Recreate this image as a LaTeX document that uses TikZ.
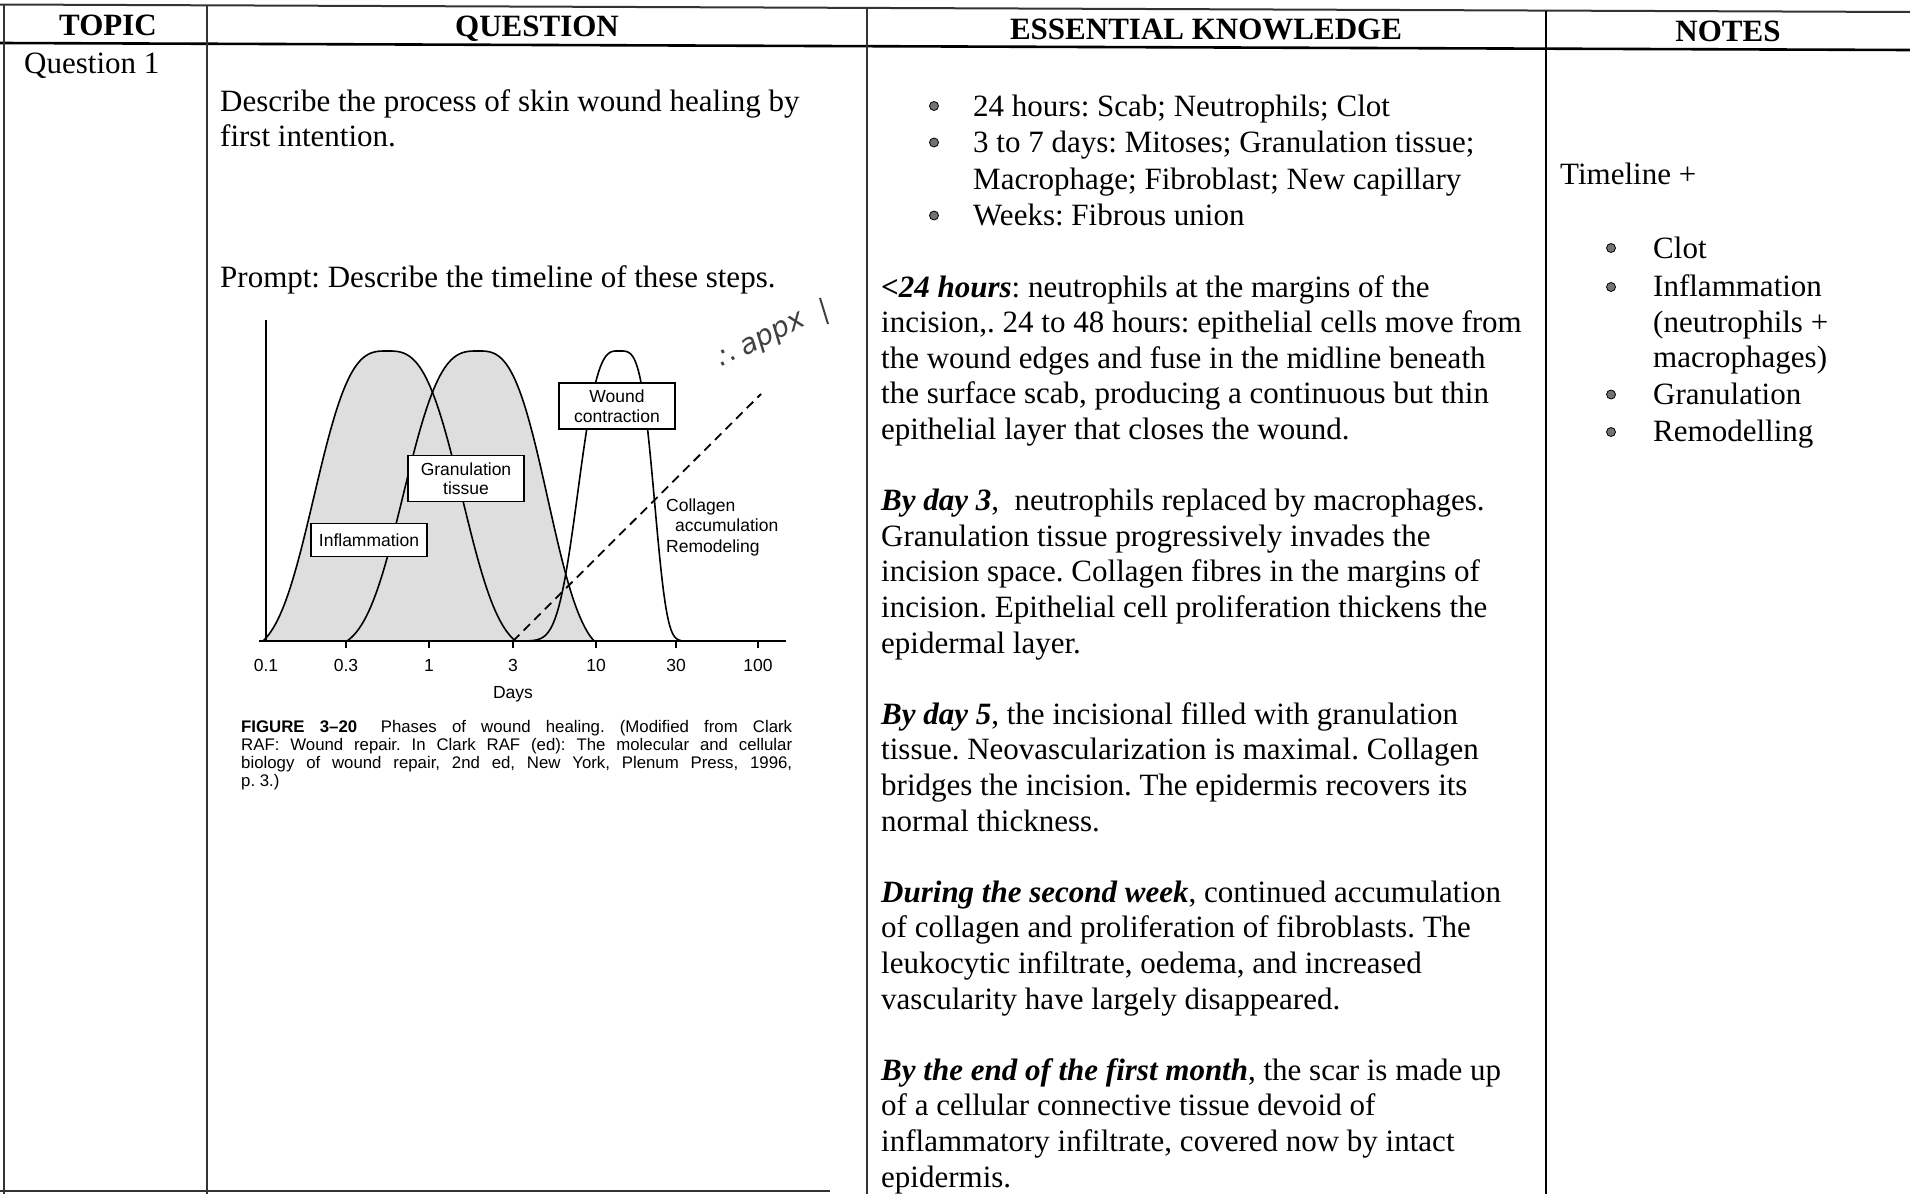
\documentclass[tikz,border=0pt]{standalone}
\usepackage{fontspec}
\setmainfont{Liberation Serif}
\newfontfamily\chartfont{Liberation Sans}
\newfontfamily\handfont{DejaVu Sans}
\frenchspacing
\tikzset{
  txt/.style={inner sep=0pt, anchor=base west, font=\fontsize{31}{35.6}\selectfont},
  hdr/.style={inner sep=0pt, anchor=base, font=\fontsize{31}{35.6}\selectfont\bfseries},
  bul/.style={circle, draw=black, fill=black!55, line width=0.8pt, minimum size=9pt, inner sep=0pt},
  tablerule/.style={line width=2pt, black!80},
  chartfnt/.style={font=\chartfont\fontsize{17.5}{19.5}\selectfont},
  lbl/.style={chartfnt, draw, line width=1.3pt, fill=white, align=center, inner sep=0pt, minimum width=116pt},
  ticklbl/.style={chartfnt, inner sep=0pt, anchor=base},
  curveline/.style={line width=1.6pt},
  stipple/.style={fill=black!13},
  captxt/.style={inner sep=0pt, anchor=base west, font=\chartfont\fontsize{16.8}{18}\selectfont}
}
\begin{document}
\frenchspacing
\begin{tikzpicture}[x=1pt,y=-1pt]
\useasboundingbox (0,0) rectangle (1910,1194);
\fill[white] (0,0) rectangle (1910,1194);

% ---------- table rules ----------
\draw[tablerule] (0,4.5) -- (1910,12);
\draw[tablerule, line width=2.6pt, black] (0,43) -- (1910,50);
\draw[tablerule] (4,4.5) -- (4,1194);
\draw[tablerule] (207,5) -- (207,1194);
\draw[tablerule] (867,7) -- (867,1194);
\draw[tablerule, black] (1546,11) -- (1546,1194);
\draw[tablerule] (0,1191) -- (830,1191);

% ---------- headers ----------
\node[hdr] (hTopic) at (108,35) {TOPIC};
\node[hdr] (hQuestion) at (537,36.5) {QUESTION};
\node[hdr] (hEK) at (1206,39.5) {ESSENTIAL KNOWLEDGE};
\node[hdr] (hNotes) at (1728,41) {NOTES};

% ---------- topic / question ----------
\node[txt] (q1) at (24,73) {Question 1};
\node[txt] (qa) at (220,111) {Describe the process of skin wound healing by};
\node[txt] (qb) at (220,146.5) {first intention.};
\node[txt] (qp) at (220,287.5) {Prompt: Describe the timeline of these steps.};

% ---------- chart ----------
\fill[stipple] plot[domain=124:0,samples=60] ({387-\x},{641-290*(exp(-((\x/84)^3))-0.0401)/(1-0.0401)})
  -- plot[domain=0:128,samples=60] ({387+\x},{641-290*(exp(-((\x/86)^3))-0.0356)/(1-0.0356)}) -- cycle;
\fill[stipple] plot[domain=131:0,samples=60] ({478-\x},{641-290*(exp(-((\x/86)^3))-0.0292)/(1-0.0292)})
  -- plot[domain=0:116,samples=60] ({478+\x},{641-290*(exp(-((\x/80)^3))-0.0474)/(1-0.0474)}) -- cycle;
\draw[curveline] plot[domain=124:0,samples=60] ({387-\x},{641-290*(exp(-((\x/84)^3))-0.0401)/(1-0.0401)})
  -- plot[domain=0:128,samples=60] ({387+\x},{641-290*(exp(-((\x/86)^3))-0.0356)/(1-0.0356)});
\draw[curveline] plot[domain=131:0,samples=60] ({478-\x},{641-290*(exp(-((\x/86)^3))-0.0292)/(1-0.0292)})
  -- plot[domain=0:116,samples=60] ({478+\x},{641-290*(exp(-((\x/80)^3))-0.0474)/(1-0.0474)});
\draw[curveline] plot[domain=103:0,samples=60] ({618-\x},{641-290*exp(-((\x/46)^3))})
  -- plot[domain=0:63,samples=60] ({618+\x},{641-290*exp(-((\x/39.5)^4))});

% axes
\draw[line width=2pt] (266,320) -- (266,641);
\draw[line width=2pt] (259,641) -- (786,641);
\foreach \tx in {346,429,513,596,676,758}
  \draw[line width=1.3pt] (\tx,641) -- (\tx,648);
\node[ticklbl] (t01) at (266,671) {0.1};
\node[ticklbl] (t03) at (346,671) {0.3};
\node[ticklbl] (t1) at (429,671) {1};
\node[ticklbl] (t3) at (513,671) {3};
\node[ticklbl] (t10) at (596,671) {10};
\node[ticklbl] (t30) at (676,671) {30};
\node[ticklbl] (t100) at (758,671) {100};
\node[ticklbl] (days) at (513,698) {Days};

% collagen dashed line
\coordinate (colA) at (513,641);
\coordinate (colB) at (761,394);
\draw[line width=1.8pt, dash pattern=on 9pt off 6pt] (colA) -- (colB);

% labels
\node[lbl, minimum height=46pt] (wound) at (617,406) {Wound\\contraction};
\node[lbl, minimum height=46pt] (gran) at (466,478.5) {Granulation\\tissue};
\node[lbl, minimum height=33pt] (infl) at (369,540) {Inflammation};
\node[chartfnt, inner sep=0pt, anchor=base west] (colg1) at (666,511) {Collagen};
\node[chartfnt, inner sep=0pt, anchor=base west] (colg2) at (675,531) {accumulation};
\node[chartfnt, inner sep=0pt, anchor=base west] (colg3) at (666,552) {Remodeling};

% handwritten note
\node[font=\handfont\itshape\fontsize{28}{28}\selectfont, rotate=28, text=black!75, inner sep=0pt] (appx) at (762,342) {∴ appx};
\draw[line width=2pt, black!75] (820,298) -- (828,324);

% caption
\node[captxt] (cap1) at (241,732.5) {\makebox[551pt][s]{\textbf{FIGURE 3–20}\hspace{0.5em} Phases of wound healing. (Modified from Clark}};
\node[captxt] (cap2) at (241,750.3) {\makebox[551pt][s]{RAF: Wound repair. In Clark RAF (ed): The molecular and cellular}};
\node[captxt] (cap3) at (241,768) {\makebox[551pt][s]{biology of wound repair, 2nd ed, New York, Plenum Press, 1996,}};
\node[captxt] (cap4) at (241,786) {p. 3.)};

% ---------- essential knowledge ----------
\node[bul] (eb1) at (934,106) {};
\node[bul] (eb2) at (934,142.5) {};
\node[bul] (eb3) at (934,215.5) {};
\node[txt] (e1) at (973,116) {24 hours: Scab; Neutrophils; Clot};
\node[txt] (e2) at (973,152.5) {3 to 7 days: Mitoses; Granulation tissue;};
\node[txt] (e2b) at (973,189) {Macrophage; Fibroblast; New capillary};
\node[txt] (e3) at (973,225.5) {Weeks: Fibrous union};

\foreach \t [count=\i from 0] in {
  {\textbf{\textit{<24 hours}}: neutrophils at the margins of the},
  {incision,. 24 to 48 hours: epithelial cells move from},
  {the wound edges and fuse in the midline beneath},
  {the surface scab, producing a continuous but thin},
  {epithelial layer that closes the wound.}}
  \node[txt] (pa\i) at (881,{297+35.6*\i}) {\t};
\foreach \t [count=\i from 0] in {
  {\textbf{\textit{By day 3}},\ \ neutrophils replaced by macrophages.},
  {Granulation tissue progressively invades the},
  {incision space. Collagen fibres in the margins of},
  {incision. Epithelial cell proliferation thickens the},
  {epidermal layer.}}
  \node[txt] (pb\i) at (881,{510.6+35.6*\i}) {\t};
\foreach \t [count=\i from 0] in {
  {\textbf{\textit{By day 5}}, the incisional filled with granulation},
  {tissue. Neovascularization is maximal. Collagen},
  {bridges the incision. The epidermis recovers its},
  {normal thickness.}}
  \node[txt] (pc\i) at (881,{724.2+35.6*\i}) {\t};
\foreach \t [count=\i from 0] in {
  {\textbf{\textit{During the second week}}, continued accumulation},
  {of collagen and proliferation of fibroblasts. The},
  {leukocytic infiltrate, oedema, and increased},
  {vascularity have largely disappeared.}}
  \node[txt] (pd\i) at (881,{902.2+35.6*\i}) {\t};
\foreach \t [count=\i from 0] in {
  {\textbf{\textit{By the end of the first month}}, the scar is made up},
  {of a cellular connective tissue devoid of},
  {inflammatory infiltrate, covered now by intact},
  {epidermis.}}
  \node[txt] (pe\i) at (881,{1080.2+35.6*\i}) {\t};

% ---------- notes ----------
\node[txt] (n0) at (1560,184) {Timeline +};
\node[bul] (nb1) at (1611,248) {};
\node[bul] (nb2) at (1611,287) {};
\node[bul] (nb3) at (1611,394.5) {};
\node[bul] (nb4) at (1611,432) {};
\node[txt] (n1) at (1653,258) {Clot};
\node[txt] (n2) at (1653,296) {Inflammation};
\node[txt] (n2b) at (1653,332) {(neutrophils +};
\node[txt] (n2c) at (1653,367.5) {macrophages)};
\node[txt] (n3) at (1653,404) {Granulation};
\node[txt] (n4) at (1653,441) {Remodelling};
\end{tikzpicture}
\end{document}
